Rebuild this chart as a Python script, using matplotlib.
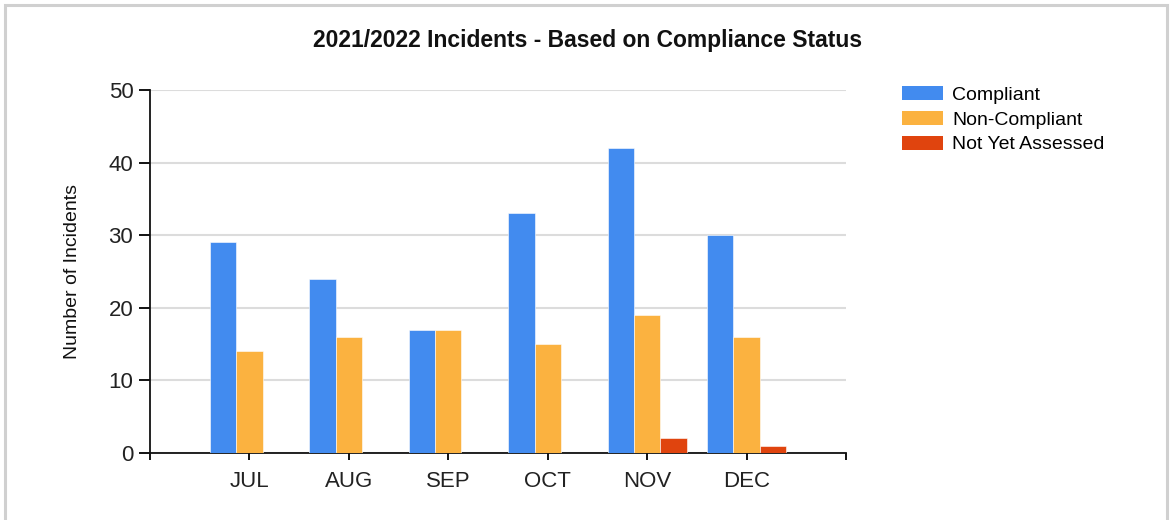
import matplotlib
matplotlib.use("Agg")
import matplotlib.pyplot as plt
import numpy as np
from matplotlib.patches import Rectangle, Patch

plt.rcParams['font.family'] = ['Liberation Sans', 'DejaVu Sans']

# data
months = ["JUL", "AUG", "SEP", "OCT", "NOV", "DEC"]
compliant = [29, 24, 17, 33, 42, 30]
non_compliant = [14, 16, 17, 15, 19, 16]
not_assessed = [0, 0, 0, 0, 2, 1]
series_names = ["Compliant", "Non-Compliant", "Not Yet Assessed"]
colors = ["#428BEF", "#FBB240", "#E0440E"]

W, H = 1172, 520
fig = plt.figure(figsize=(W / 100, H / 100), dpi=100)

# light grey frame round the chart, open at the bottom edge of the image
fig.patches.append(Rectangle((5 / W, -0.2), (1167 - 5) / W, 1.2 - 5 / H,
                             transform=fig.transFigure, fill=False,
                             edgecolor="#D0D0D0", linewidth=2.2, clip_on=False))

ax = fig.add_axes([150 / W, (H - 453) / H, 696 / W, 363 / H])

x = np.arange(1, len(months) + 1)
w = 0.265
for i, (vals, name, c) in enumerate(zip([compliant, non_compliant, not_assessed],
                                         series_names, colors)):
    ax.bar(x + (i - 1) * w, vals, width=w, color=c, edgecolor="#FFFFFF",
           linewidth=0.4, label=name, zorder=3)

ax.set_xlim(0, len(months) + 1)
ax.set_ylim(0, 50)
ax.set_yticks(range(0, 51, 10))
ax.set_xticks(range(0, len(months) + 2))
ax.set_xticklabels([""] + months + [""])

ax.grid(axis="y", color="#DCDCDC", linewidth=1.5, zorder=0)
for s in ["top", "right"]:
    ax.spines[s].set_visible(False)
for s in ["left", "bottom"]:
    ax.spines[s].set_linewidth(1.3)
    ax.spines[s].set_color("#111111")

ax.tick_params(axis="y", length=8, width=1.3, pad=4, labelsize=16, labelcolor="#222222")
ax.tick_params(axis="x", length=5, width=1.3, pad=8, labelsize=16, labelcolor="#222222")

ax.set_ylabel("Number of Incidents", fontsize=14, color="#111111", labelpad=19.5)

fig.text(588 / W, 1 - 40 / H, "2021/2022 Incidents - Based on Compliance Status",
         ha="center", va="center", fontsize=16.5, fontweight="bold", color="#111111")

handles = [Patch(facecolor=c, edgecolor="none") for c in colors]
fig.legend(handles, series_names, loc="upper left",
           bbox_to_anchor=(894 / W, 1 - 78 / H), frameon=False,
           fontsize=14, handlelength=2.1, handleheight=0.75,
           handletextpad=0.5, labelspacing=0.36, borderaxespad=0)

fig.savefig("out.png", dpi=100)
